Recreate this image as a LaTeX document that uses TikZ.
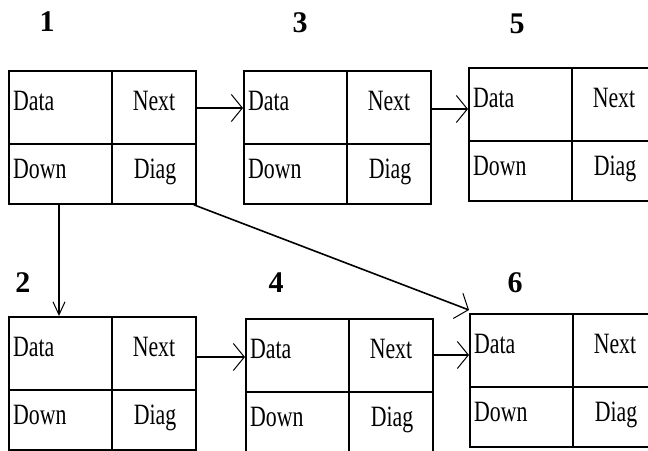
\documentclass[tikz,border=0pt]{standalone}
\usepackage{fontspec}
\setmainfont{Liberation Serif}
\newfontfamily\condfont[FakeStretch=0.74]{Liberation Serif}
\usetikzlibrary{arrows.meta}
\tikzset{
  x=1pt, y=-1pt,
  cellbox/.style={draw, line width=1.8pt, minimum width=187pt, minimum height=133pt, inner sep=0pt, anchor=north west},
  cellline/.style={line width=1.8pt},
  celltext/.style={inner sep=0pt, font=\condfont\fontsize{29.5}{29.5}\selectfont},
  numlabel/.style={inner sep=0pt, font=\bfseries\fontsize{30}{30}\selectfont},
  arr/.style={line width=1.6pt, -{Straight Barb[length=11pt,width=27pt,line width=1pt]}},
  darr/.style={line width=1.6pt, -{Straight Barb[length=13pt,width=12pt,line width=1pt]}},
}
\newcommand\listbox[3]{%
  \node[cellbox] (#1) at (#2,#3) {};
  \draw[cellline] ([xshift=104pt]#1.north west) -- ([xshift=104pt]#1.south west);
  \draw[cellline] ([yshift=-74pt]#1.north west) -- ([yshift=-74pt]#1.north east);
  \node[celltext, anchor=base west] (#1data) at ([xshift=5pt,yshift=-40pt]#1.north west) {Data};
  \node[celltext, anchor=base] (#1next) at ([xshift=146pt,yshift=-40pt]#1.north west) {Next};
  \node[celltext, anchor=base west] (#1down) at ([xshift=5pt,yshift=-108pt]#1.north west) {Down};
  \node[celltext, anchor=base] (#1diag) at ([xshift=147pt,yshift=-108pt]#1.north west) {Diag};
}
\begin{document}
\begin{tikzpicture}
\useasboundingbox (0,0) rectangle (648,450);
\fill[white] (0,0) rectangle (648,450);
\listbox{b1}{8}{70}
\listbox{b3}{243}{70}
\listbox{b5}{468}{67}
\listbox{b2}{8}{316}
\listbox{b4}{245}{318}
\listbox{b6}{469}{313}
\node[numlabel] (n1) at (47,22) {1};
\node[numlabel] (n3) at (300,23) {3};
\node[numlabel] (n5) at (517,24) {5};
\node[numlabel] (n2) at (23,283) {2};
\node[numlabel] (n4) at (276,283) {4};
\node[numlabel] (n6) at (515,283) {6};
% connectors
\draw[arr] ([yshift=-38pt]b1.north east) coordinate (p13) -- (p13 -| b3.west);
\draw[arr] ([yshift=-39pt]b3.north east) coordinate (p35) -- (p35 -| b5.west);
\draw[arr] ([yshift=-41pt]b2.north east) coordinate (p24) -- (p24 -| b4.west);
\draw[arr] ([yshift=-37pt]b4.north east) coordinate (p46) -- (p46 -| b6.west);
\draw[darr] ([xshift=51pt]b1.south west) coordinate (p12) -- (p12 |- b2.north);
\draw[arr] ([xshift=-3pt]b1.south east) -- ([yshift=3pt]b6.north west);
\end{tikzpicture}
\end{document}
